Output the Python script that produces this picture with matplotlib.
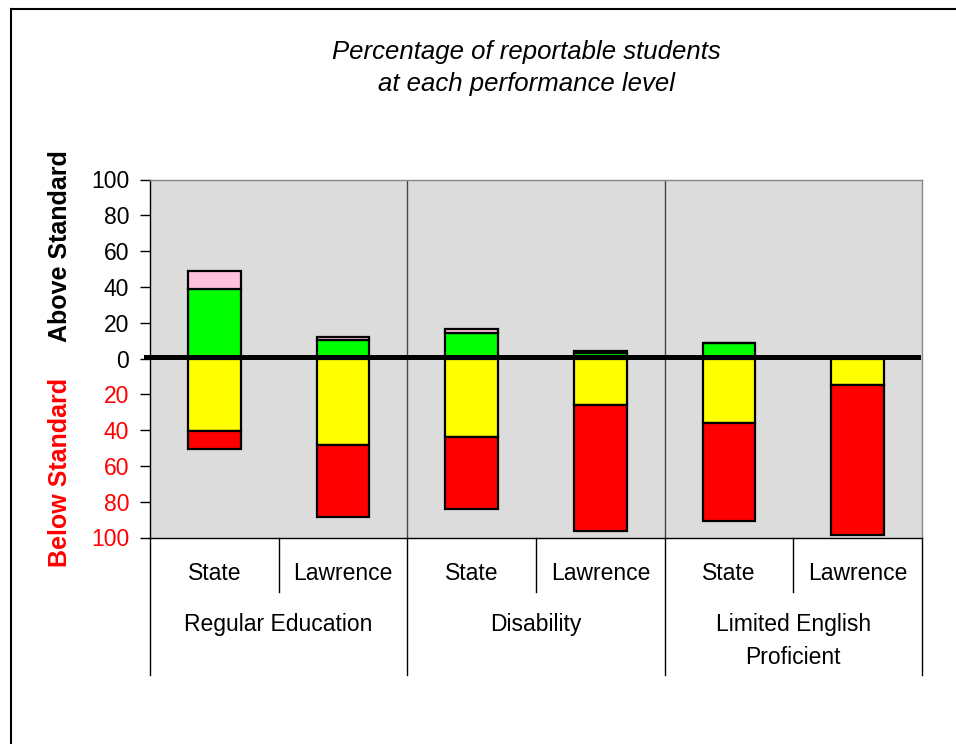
import matplotlib
matplotlib.use("Agg")
import matplotlib.pyplot as plt
import matplotlib.transforms as mtransforms
from matplotlib.lines import Line2D
import numpy as np

plt.rcParams['font.family'] = ['Liberation Sans', 'DejaVu Sans']

# ---- data ----
groups = ["Regular Education", "Disability", "Limited English\nProficient"]
sub_labels = ["State", "Lawrence", "State", "Lawrence", "State", "Lawrence"]
# above standard (stacked upward)
proficient = [38.6, 10.3, 14.0, 3.0, 8.7, 1.0]
advanced = [10.4, 1.5, 2.5, 1.0, 0.0, 0.0]
# below standard (stacked downward)
needs_improvement = [40.3, 48.3, 44.0, 26.1, 36.0, 14.8]
warning = [10.4, 40.4, 40.2, 70.2, 54.7, 83.7]
yticks = [-100, -80, -60, -40, -20, 0, 20, 40, 60, 80, 100]
ytick_labels = ["100", "80", "60", "40", "20", "0", "20", "40", "60", "80", "100"]

W, H = 956, 744
fig = plt.figure(figsize=(W / 100, H / 100), dpi=100)

def fx(px):
    return px / W

def fy(py):
    return 1 - py / H

ax_l, ax_r, ax_t, ax_b = 150, 922, 179.5, 537.5
ax = fig.add_axes([fx(ax_l), fy(ax_b), (ax_r - ax_l) / W, (ax_b - ax_t) / H])
ax.set_facecolor('#dcdcdc')

x = np.arange(len(sub_labels))
bw = 0.41
ec = 'black'
lw = 1.6
ax.bar(x, proficient, bw, color='#00ff00', edgecolor=ec, linewidth=lw, zorder=3)
ax.bar(x, advanced, bw, bottom=proficient, color='#ffbfdf', edgecolor=ec, linewidth=lw, zorder=3)
neg_ni = [-v for v in needs_improvement]
ax.bar(x, neg_ni, bw, color='#ffff00', edgecolor=ec, linewidth=lw, zorder=3)
ax.bar(x, [-v for v in warning], bw, bottom=neg_ni, color='#ff0000', edgecolor=ec, linewidth=lw, zorder=3)

ax.set_xlim(-0.5, len(sub_labels) - 0.5)
ax.set_ylim(-100, 100)

# thick standard line
ax.axhline(1.0, color='black', linewidth=3.6, zorder=4, xmin=-0.005, xmax=0.995, clip_on=False)

# group separators inside plot
for s in [1.5, 3.5]:
    ax.axvline(s, color='#444444', linewidth=1.0, zorder=2)

for sp in ['top', 'right']:
    ax.spines[sp].set_color('#888888')
    ax.spines[sp].set_linewidth(1.0)
for sp in ['left', 'bottom']:
    ax.spines[sp].set_color('black')
    ax.spines[sp].set_linewidth(1.0)

ax.set_yticks(yticks)
ax.set_yticklabels(ytick_labels, fontsize=16.5)
for lab, v in zip(ax.get_yticklabels(), yticks):
    lab.set_color('red' if v < 0 else 'black')
ax.tick_params(axis='y', direction='out', length=7, width=1.0, pad=8)
ax.set_xticks([])

# category axis below
trans = mtransforms.blended_transform_factory(ax.transData, ax.transAxes)
short_y = (ax_b - 592) / (ax_b - ax_t)
long_y = (ax_b - 675) / (ax_b - ax_t)
for s in [0.5, 2.5, 4.5]:
    ax.add_line(Line2D([s, s], [0, short_y], transform=trans, color='black', linewidth=1.0, clip_on=False))
for s in [-0.5, 1.5, 3.5, 5.5]:
    ax.add_line(Line2D([s, s], [0, long_y], transform=trans, color='black', linewidth=1.0, clip_on=False))

sub_y = (ax_b - 573) / (ax_b - ax_t)
for xi, lab in zip(x, sub_labels):
    ax.text(xi, sub_y, lab, transform=trans, ha='center', va='center', fontsize=16.5)
for gi, g in enumerate(groups):
    lines = g.split('\n')
    for li, t in enumerate(lines):
        yy = (ax_b - (625 + 32 * li)) / (ax_b - ax_t)
        ax.text(2 * gi + 0.5, yy, t, transform=trans, ha='center', va='center', fontsize=16.5)

# title
fig.text(fx(526), fy(52), "Percentage of reportable students", ha='center', va='center',
         fontsize=18.5, style='italic')
fig.text(fx(526), fy(84), "at each performance level", ha='center', va='center',
         fontsize=18.5, style='italic')

# side labels
fig.text(fx(60), fy(246), "Above Standard", rotation=90, ha='center', va='center',
         fontsize=18, fontweight='bold', color='black')
fig.text(fx(60), fy(472), "Below Standard", rotation=90, ha='center', va='center',
         fontsize=18, fontweight='bold', color='red')

# frame lines (top and left)
fig.add_artist(Line2D([fx(11), fx(11)], [fy(9), 0], transform=fig.transFigure, color='black', linewidth=1.5))
fig.add_artist(Line2D([fx(11), 1], [fy(9), fy(9)], transform=fig.transFigure, color='black', linewidth=1.5))

fig.savefig('out.png', dpi=100)
